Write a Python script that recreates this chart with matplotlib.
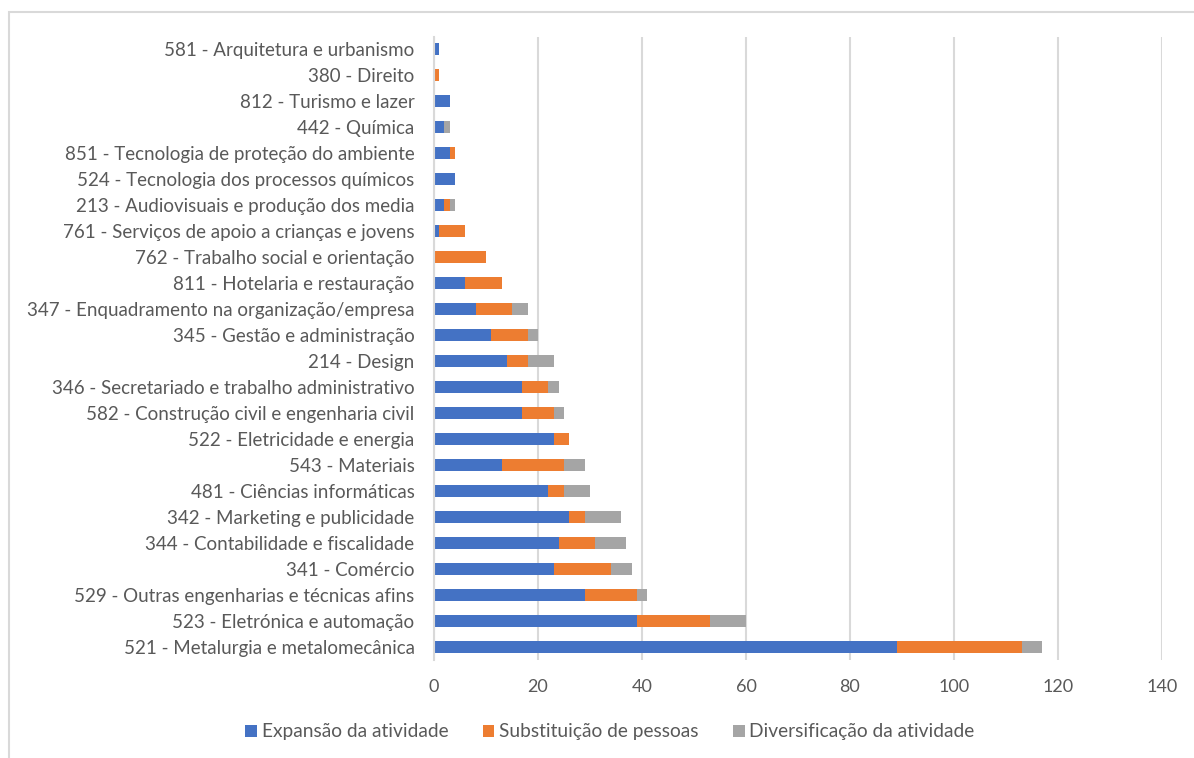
import matplotlib.pyplot as plt
from matplotlib.patches import Rectangle

plt.rcParams['font.family'] = ['Lato', 'DejaVu Sans']

areas = [
    "581 - Arquitetura e urbanismo",
    "380 - Direito",
    "812 - Turismo e lazer",
    "442 - Química",
    "851 - Tecnologia de proteção do ambiente",
    "524 - Tecnologia dos processos químicos",
    "213 - Audiovisuais e produção dos media",
    "761 - Serviços de apoio a crianças e jovens",
    "762 - Trabalho social e orientação",
    "811 - Hotelaria e restauração",
    "347 - Enquadramento na organização/empresa",
    "345 - Gestão e administração",
    "214 - Design",
    "346 - Secretariado e trabalho administrativo",
    "582 - Construção civil e engenharia civil",
    "522 - Eletricidade e energia",
    "543 - Materiais",
    "481 - Ciências informáticas",
    "342 - Marketing e publicidade",
    "344 - Contabilidade e fiscalidade",
    "341 - Comércio",
    "529 - Outras engenharias e técnicas afins",
    "523 - Eletrónica e automação",
    "521 - Metalurgia e metalomecânica",
]
expansao = [1, 0, 3, 2, 3, 4, 2, 1, 0, 6, 8, 11, 14, 17, 17, 23, 13, 22, 26, 24, 23, 29, 39, 89]
substituicao = [0, 1, 0, 0, 1, 0, 1, 5, 10, 7, 7, 7, 4, 5, 6, 3, 12, 3, 3, 7, 11, 10, 14, 24]
diversificacao = [0, 0, 0, 1, 0, 0, 1, 0, 0, 0, 3, 2, 5, 2, 2, 0, 4, 5, 7, 6, 4, 2, 7, 4]
series_names = ["Expansão da atividade", "Substituição de pessoas", "Diversificação da atividade"]
colors = ["#4472C4", "#ED7D31", "#A5A5A5"]
text_color = "#595959"

fig = plt.figure(figsize=(11.94, 7.58), dpi=100)
# light frame around the chart area
fig.patches.append(Rectangle((9 / 1194, -0.1), 1.2, (758 - 12) / 758 + 0.1,
                             transform=fig.transFigure, fill=False,
                             edgecolor="#D9D9D9", linewidth=1.5))

ax = fig.add_axes([434 / 1194, 98 / 758, 728 / 1194, 623 / 758])

y = list(range(len(areas)))[::-1]
left = [0] * len(areas)
for vals, name, c in zip([expansao, substituicao, diversificacao], series_names, colors):
    ax.barh(y, vals, left=left, height=0.46, color=c, label=name)
    left = [a + b for a, b in zip(left, vals)]

ax.set_xlim(0, 140)
ax.set_xticks(range(0, 141, 20))
ax.set_ylim(-0.5, len(areas) - 0.54)
ax.set_yticks(y)
ax.set_yticklabels(areas)
ax.grid(axis="x", color="#D9D9D9", linewidth=1.5)
ax.set_axisbelow(True)
for s in ["top", "right", "bottom"]:
    ax.spines[s].set_visible(False)
ax.spines["left"].set_color("#D9D9D9")
ax.spines["left"].set_linewidth(1.5)
ax.tick_params(axis="both", length=0, colors=text_color)
ax.tick_params(axis="x", pad=14, labelsize=13)
ax.tick_params(axis="y", pad=14, labelsize=13.5)

leg = fig.legend(loc="center", bbox_to_anchor=(610 / 1194, 1 - 732 / 758), ncol=3,
                 frameon=False, fontsize=13.8, handlelength=0.6, handleheight=0.6,
                 handletextpad=0.25, columnspacing=1.8)
for t in leg.get_texts():
    t.set_color(text_color)

fig.savefig("out.png", dpi=100)
